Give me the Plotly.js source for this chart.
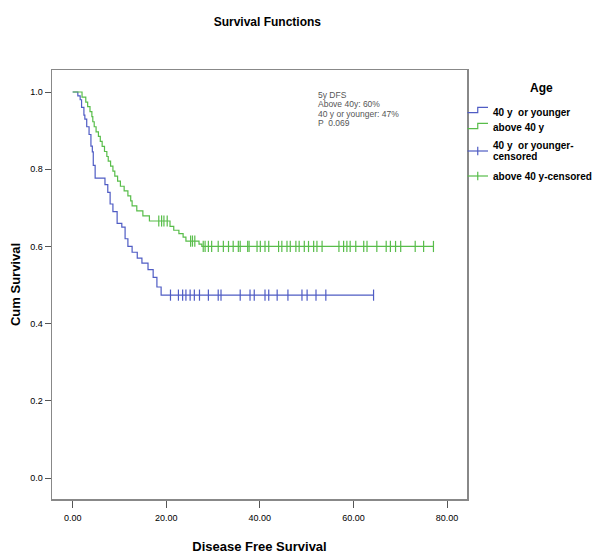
<!DOCTYPE html>
<html>
<head>
<meta charset="utf-8">
<script src="https://cdn.plot.ly/plotly-3.0.1.min.js"></script>
<style>html,body{margin:0;padding:0;background:#fff;}#chart{width:598px;height:554px;}</style>
</head>
<body>
<div id="chart"></div>
<script>
// ---- data ----
const groupNames = ["40 y  or younger", "above 40 y"];
const censorNames = ["40 y  or younger-<br>censored", "above 40 y-censored"];
const legendTitle = "Age";

const youngTimes = [0, 1.1, 1.6, 1.9, 2.4, 2.6, 3.0, 3.5, 3.9, 4.2, 4.4, 4.8, 6.9, 7.5, 8.0, 8.6, 9.5, 10.5, 11.2, 11.8, 12.7, 13.8, 14.8, 16.1, 17.2, 18.0, 18.9];
const youngSurv  = [1.0, 0.99, 0.98, 0.96, 0.94, 0.93, 0.91, 0.89, 0.86, 0.845, 0.81, 0.777, 0.76, 0.74, 0.71, 0.69, 0.66, 0.65, 0.62, 0.60, 0.585, 0.57, 0.557, 0.54, 0.52, 0.495, 0.474];
const youngCensored = [20.9, 22.6, 23.5, 24.2, 25.1, 26.0, 27.1, 29.0, 31.1, 31.7, 35.8, 37.9, 38.8, 41.1, 41.9, 43.7, 46.0, 49.0, 50.1, 52.0, 54.1, 64.3];

const oldTimes = [0, 2.0, 2.8, 3.2, 3.7, 4.1, 4.3, 4.6, 5.0, 5.5, 5.9, 6.3, 6.8, 7.3, 7.6, 8.1, 8.6, 9.0, 9.6, 10.2, 11.0, 11.8, 12.4, 12.7, 13.7, 15.0, 16.4, 20.8, 21.6, 22.7, 23.6, 24.2, 27.0, 27.6];
const oldSurv  = [1.0, 0.987, 0.974, 0.962, 0.949, 0.936, 0.923, 0.910, 0.897, 0.885, 0.872, 0.859, 0.846, 0.833, 0.821, 0.808, 0.795, 0.782, 0.769, 0.756, 0.744, 0.731, 0.718, 0.705, 0.692, 0.679, 0.666, 0.652, 0.642, 0.633, 0.624, 0.614, 0.606, 0.600];
const oldCensored = [18.4, 19.0, 19.5, 20.2, 25.2, 25.6, 26.1, 27.9, 28.3, 29.0, 29.7, 31.1, 32.2, 33.3, 34.3, 35.4, 35.8, 37.4, 37.7, 39.4, 40.1, 41.1, 41.9, 44.0, 44.7, 45.8, 46.5, 47.7, 48.4, 49.5, 50.4, 51.5, 52.2, 53.3, 56.9, 57.9, 58.6, 59.3, 60.5, 62.2, 62.9, 65.0, 67.0, 67.9, 69.0, 70.1, 73.2, 75.0, 77.1];

const xTickVals = [0, 20, 40, 60, 80];
const xTickText = ["0.00", "20.00", "40.00", "60.00", "80.00"];
const yTickVals = [0, 0.2, 0.4, 0.6, 0.8, 1.0];
const yTickText = ["0.0", "0.2", "0.4", "0.6", "0.8", "1.0"];

const noteLines = ["5y DFS", "Above 40y: 60%", "40 y or younger: 47%", "P  0.069"];

// ---- styling ----
const colors = ["#4f5cc4", "#58bd4a"];
const boldFont = "Liberation Sans, Arial, sans-serif";
const H = 429, TOP = 70, L = 52, W = 415; // plot box in px, used to place paper-positioned items
const py = p => (TOP + H - p) / H;
const pxp = p => (p - L) / W;

function stepValue(times, surv, t) {
  let v = surv[0];
  for (let i = 0; i < times.length; i++) { if (times[i] <= t) v = surv[i]; }
  return v;
}
function curve(times, surv, censored, color, name) {
  const last = Math.max(times[times.length - 1], Math.max.apply(null, censored));
  return {
    x: times.concat([last]), y: surv.concat([surv[surv.length - 1]]),
    type: "scatter", mode: "lines", line: {shape: "hv", color: color, width: 1.2},
    name: name, showlegend: false, hoverinfo: "skip"
  };
}
function censorTrace(times, surv, censored, color, name) {
  return {
    x: censored, y: censored.map(t => stepValue(times, surv, t)),
    type: "scatter", mode: "markers", name: name, showlegend: false,
    marker: {symbol: "line-ns", size: 8, color: color, line: {color: color, width: 1.2}}
  };
}

const data = [
  curve(youngTimes, youngSurv, youngCensored, colors[0], groupNames[0]),
  curve(oldTimes, oldSurv, oldCensored, colors[1], groupNames[1]),
  censorTrace(youngTimes, youngSurv, youngCensored, colors[0], censorNames[0]),
  censorTrace(oldTimes, oldSurv, oldCensored, colors[1], censorNames[1])
];

// manual legend, laid out as in the reference
const annotations = [];
const shapes = [];
annotations.push({xref: "paper", yref: "paper", x: pxp(541), y: py(87.5), xanchor: "center", yanchor: "middle",
  text: "<b>" + legendTitle + "</b>", showarrow: false, font: {family: boldFont, size: 12, color: "#000"}});
const legendLabels = [groupNames[0], groupNames[1], censorNames[0], censorNames[1]];
const legendPx = [112, 127, 145, 176];  // pixel centre of first text line per entry
const iconPx = [110, 126, 151, 176];
const legendColors = [colors[0], colors[1], colors[0], colors[1]];
const x0 = pxp(467.5), x1 = pxp(488), xm = (x0 + x1) / 2;
for (let i = 0; i < 4; i++) {
  const lines = legendLabels[i].split("<br>");
  lines.forEach((ln, j) => {
    annotations.push({xref: "paper", yref: "paper", x: pxp(491), y: py(legendPx[i] + j * 11.5), xanchor: "left", yanchor: "middle",
      text: "<b>" + ln + "</b>", align: "left", showarrow: false,
      font: {family: boldFont, size: 10, color: "#000"}});
  });
  const yy = py(iconPx[i]);
  if (i < 2) {
    const d = 0.006;
    shapes.push({type: "path", xref: "paper", yref: "paper",
      path: `M ${x0} ${yy - d} L ${xm} ${yy - d} L ${xm} ${yy + d} L ${x1} ${yy + d}`,
      line: {color: legendColors[i], width: 1.2}});
  } else {
    shapes.push({type: "line", xref: "paper", yref: "paper", x0: x0, x1: x1, y0: yy, y1: yy,
      line: {color: legendColors[i], width: 1.2}});
    shapes.push({type: "line", xref: "paper", yref: "paper", x0: xm, x1: xm, y0: yy - 0.01, y1: yy + 0.01,
      line: {color: legendColors[i], width: 1.2}});
  }
}
// note text block
noteLines.forEach((ln, j) => {
  annotations.push({xref: "paper", yref: "paper", x: pxp(316), y: py(95 + j * 9.3), xanchor: "left", yanchor: "middle",
    text: ln, align: "left", showarrow: false,
    font: {family: "Liberation Sans, Arial, sans-serif", size: 8.5, color: "#555"}});
});

const layout = {
  width: 598, height: 554,
  margin: {l: 52, r: 131, t: 70, b: 55, pad: 0},
  paper_bgcolor: "#fff", plot_bgcolor: "#fff",
  showlegend: false,
  title: {text: "<b>Survival Functions</b>", x: 0.447, xanchor: "center", y: 0.96, yanchor: "middle",
    font: {family: boldFont, size: 12, color: "#000"}},
  xaxis: {
    range: [-4.42, 84.27], tickvals: xTickVals, ticktext: xTickText,
    ticks: "outside", ticklen: 7, tickcolor: "#555", tickwidth: 1, ticklabelstandoff: 3,
    showgrid: false, zeroline: false, showline: true, linecolor: "#888", linewidth: 1.5, mirror: true,
    tickfont: {family: boldFont, size: 9, color: "#000"},
    title: {text: "<b>Disease Free Survival</b>", font: {family: boldFont, size: 13, color: "#000"}, standoff: 20}
  },
  yaxis: {
    range: [-0.054, 1.057], tickvals: yTickVals, ticktext: yTickText,
    ticks: "outside", ticklen: 6, tickcolor: "#555", tickwidth: 1,
    showgrid: false, zeroline: false, showline: true, linecolor: "#888", linewidth: 1.5, mirror: true,
    tickfont: {family: boldFont, size: 9, color: "#000"},
    title: {text: "<b>Cum Survival</b>", font: {family: boldFont, size: 13, color: "#000"}, standoff: 6}
  },
  annotations: annotations,
  shapes: shapes
};

Plotly.newPlot("chart", data, layout, {displayModeBar: false, staticPlot: true});
</script>
</body>
</html>
